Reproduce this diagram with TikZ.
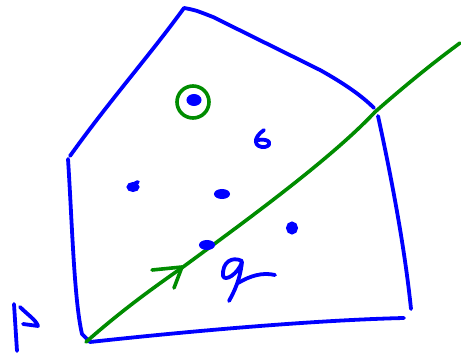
\documentclass[tikz,border=0pt]{standalone}
\begin{document}
\begin{tikzpicture}[x=1pt,y=-1pt,
  blueline/.style={draw=blue,line width=3.8pt,line cap=round,line join=round},
  greenline/.style={draw=black!45!green,line width=3.6pt,line cap=round,line join=round},
  blob/.style={fill=blue,draw=blue,line width=2pt}]
\useasboundingbox (0,0) rectangle (461,355);
% polygon
\draw[blueline] (70,156) .. controls (110,100) and (150,55) .. (184,8)
  .. controls (195,10) .. (213,17) -- (320,70) .. controls (345,84) and (362,96) .. (374,108);
\draw[blueline] (68,159) .. controls (72,220) and (74,300) .. (82,334) -- (90,342)
  .. controls (200,330) and (320,320) .. (404,318);
\draw[blueline] (378,116) .. controls (392,180) and (405,250) .. (411,309);
% green line
\draw[greenline] (86,342) .. controls (120,312) and (150,290) .. (183,267)
  .. controls (240,225) and (330,160) .. (375,112) .. controls (400,90) and (430,65) .. (460,43);
\draw[greenline] (152,270) -- (182,267) -- (174,288);
\draw[greenline] (193,102) circle (16);
% dots
\fill[blob] (194,100) ellipse (6.5 and 5);
\draw[blueline] (264,130) .. controls (252,138) and (254,148) .. (265,147) .. controls (273,145) and (270,138) .. (258,140);
\fill[blob] (133,187) ellipse (5.5 and 4);
\draw[blueline] (130,186) -- (138,182);
\fill[blob] (222,194) ellipse (7 and 4);
\fill[blob] (292,228) ellipse (5 and 5.5);
\fill[blob] (207,245) ellipse (7 and 4);
% P
\draw[blueline] (14,304) -- (17,351);
\draw[blueline] (20,307) .. controls (28,315) and (36,320) .. (38,326) -- (23,324);
% q
\draw[blueline] (242,261) .. controls (232,256) and (222,262) .. (223,276) .. controls (225,282) and (238,274) .. (242,262)
  .. controls (240,280) and (234,292) .. (229,301);
\draw[blueline] (238,283) .. controls (250,276) and (262,272) .. (275,275);
\end{tikzpicture}
\end{document}
